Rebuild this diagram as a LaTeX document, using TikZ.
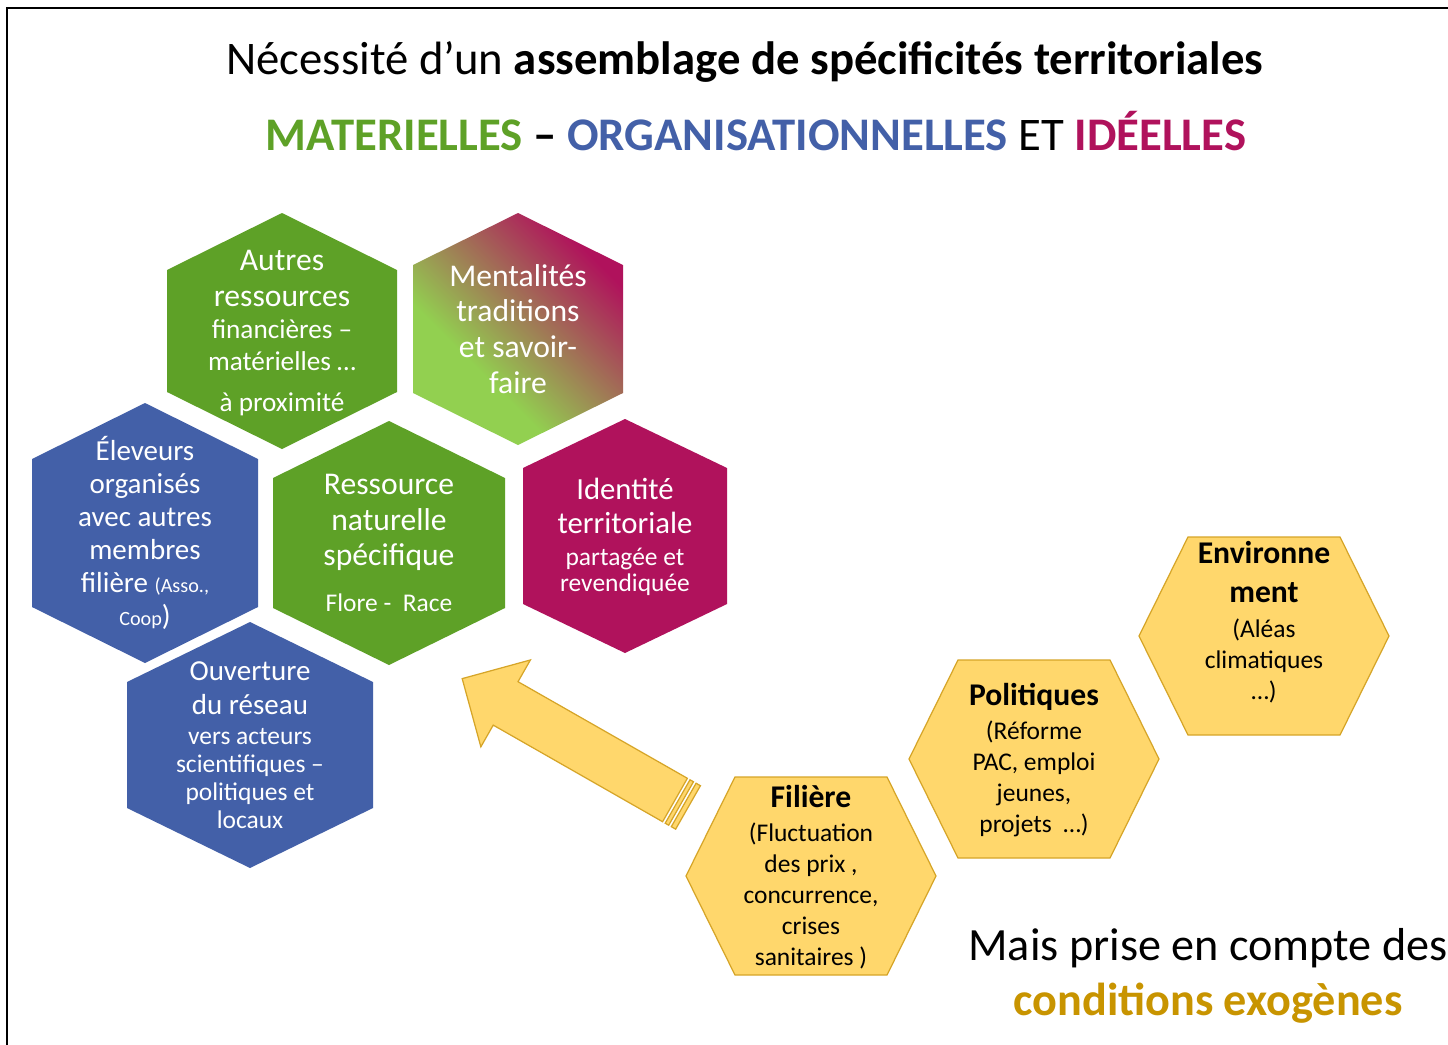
\documentclass[tikz,border=0pt]{standalone}
\usepackage{fontspec}
\setmainfont{Carlito}
\usepackage{tikz}
\definecolor{matgreen}{RGB}{94,161,39}
\definecolor{orgblue}{RGB}{67,96,168}
\definecolor{idmagenta}{RGB}{176,18,92}
\definecolor{lightgreen}{RGB}{146,208,80}
\definecolor{exofill}{RGB}{255,215,108}
\definecolor{exoline}{RGB}{214,165,40}
\definecolor{exotext}{RGB}{200,148,0}
\pgfdeclarehorizontalshading{mentalshade}{100bp}{color(0bp)=(lightgreen); color(39bp)=(lightgreen); color(70bp)=(idmagenta); color(100bp)=(idmagenta)}
\newcommand{\taille}[2]{{\fontsize{#1}{#1}\selectfont #2}}
\newcommand{\hexpointe}[5]{\path[#5, shift={#1}] (-#2,-#3) -- (0,-#4) -- (#2,-#3) -- (#2,#3) -- (0,#4) -- (-#2,#3) -- cycle;}
\newcommand{\hexplat}[4]{\path[exocell, shift={#1}] (-#2,0) -- (-#3,-#4) -- (#3,-#4) -- (#2,0) -- (#3,#4) -- (-#3,#4) -- cycle;}
\tikzset{
    matcell/.style={fill=matgreen},
    orgcell/.style={fill=orgblue},
    idcell/.style={fill=idmagenta},
    exocell/.style={fill=exofill, draw=exoline, line width=0.7pt},
    celltext/.style={align=center, text=white, inner sep=0pt, execute at begin node={\lineskiplimit=-50pt}},
    exotext/.style={celltext, text=black, font=\fontsize{14.5}{17.6}\selectfont},
    bigline/.style={font=\fontsize{26.6}{31}\selectfont, align=center, inner sep=0pt}
}
\begin{document}
\begin{tikzpicture}[x=0.02cm, y=-0.02cm]
        \useasboundingbox[fill=white] (0,0) rectangle (1448,1045);
        \draw[line width=1.2pt] (7,1045) -- (7,8) -- (1448,8);

        \node[bigline] (titre) at (745,62) {Nécessité d’un \textbf{assemblage de spécificités territoriales}};
        \node[bigline] (soustitre) at (756,131) {\textcolor{matgreen}{\bfseries MATERIELLES} \textbf{–} \textcolor{orgblue}{\bfseries ORGANISATIONNELLES} ET \textcolor{idmagenta}{\bfseries IDÉELLES}};

        \hexpointe{(282,331)}{115}{61}{118}{matcell}
        \begin{scope}
            \hexpointe{(518,329)}{105}{64}{116}{clip}
            \shade[shading=mentalshade, shading angle=45] (388,199) rectangle (648,459);
        \end{scope}
        \hexpointe{(145,533)}{113}{74}{130}{orgcell}
        \hexpointe{(389,543)}{116}{65}{122}{matcell}
        \hexpointe{(625,536)}{102}{68}{117}{idcell}
        \hexpointe{(250,745)}{123}{63}{123}{orgcell}

        \node[celltext, font=\fontsize{15.5}{18.1}\selectfont] (autres) at (282,333) {\taille{18}{Autres}\\[2.3pt]\taille{18}{ressources}\\financières –\\matérielles …\\[5.1pt]à proximité};
        \node[celltext, font=\fontsize{18}{20.4}\selectfont] (mentalites) at (518,329) {Mentalités\\traditions\\et savoir-\\faire};
        \node[celltext, font=\fontsize{16.5}{18.7}\selectfont] (eleveurs) at (145,533) {Éleveurs\\organisés\\avec autres\\membres\\filière \taille{11.5}{(Asso.,}\\\taille{11.5}{Coop})};
        \node[celltext, font=\fontsize{18}{20.1}\selectfont] (ressource) at (389,543) {Ressource\\naturelle\\spécifique\\[6pt]\taille{14.5}{Flore -\ \ Race}};
        \node[celltext, font=\fontsize{14.5}{15.3}\selectfont] (identite) at (625,537) {\taille{17.5}{Identité}\\[4pt]\taille{17.5}{territoriale}\\[2.8pt]partagée et\\revendiquée};
        \node[celltext, font=\fontsize{14.5}{15.9}\selectfont] (ouverture) at (250,745) {\taille{16.5}{Ouverture}\\[3.4pt]\taille{16.5}{du réseau}\\[1.1pt]vers acteurs\\scientifiques –\\politiques et\\locaux};

        \begin{scope}[shift={(675,800)}, rotate=150.3]
            \path[exocell] (0,-25) -- (195,-25) -- (195,-50) -- (245,0) -- (195,50) -- (195,25) -- (0,25) -- cycle;
            \path[exocell] (-3,-25) -- (-7,-25) -- (-7,25) -- (-3,25) -- cycle;
            \path[exocell] (-10,-25) -- (-15,-25) -- (-15,25) -- (-10,25) -- cycle;
        \end{scope}

        \hexplat{(811,876)}{125}{76}{99}
        \hexplat{(1034,759)}{125}{76}{99}
        \hexplat{(1264,636)}{125}{76}{99}

        \node[exotext] (filiere) at (811,877) {\taille{18}{\bfseries Filière}\\[2.2pt](Fluctuation\\des prix ,\\concurrence,\\crises\\sanitaires )};
        \node[exotext] (politiques) at (1034,760) {\taille{18}{\bfseries Politiques}\\[2.2pt](Réforme\\PAC, emploi\\jeunes,\\projets\ \ …)};
        \node[exotext] (environnement) at (1264,622) {\taille{18}{\bfseries Environne}\\[4.5pt]\taille{18}{\bfseries ment}\\[2.2pt](Aléas\\climatiques\\…)};

        \node[bigline, font=\fontsize{26.3}{31}\selectfont] (conditions) at (1208,976) {Mais prise en compte des\\\textcolor{exotext}{\bfseries conditions exogènes}};
    \end{tikzpicture}
\end{document}
